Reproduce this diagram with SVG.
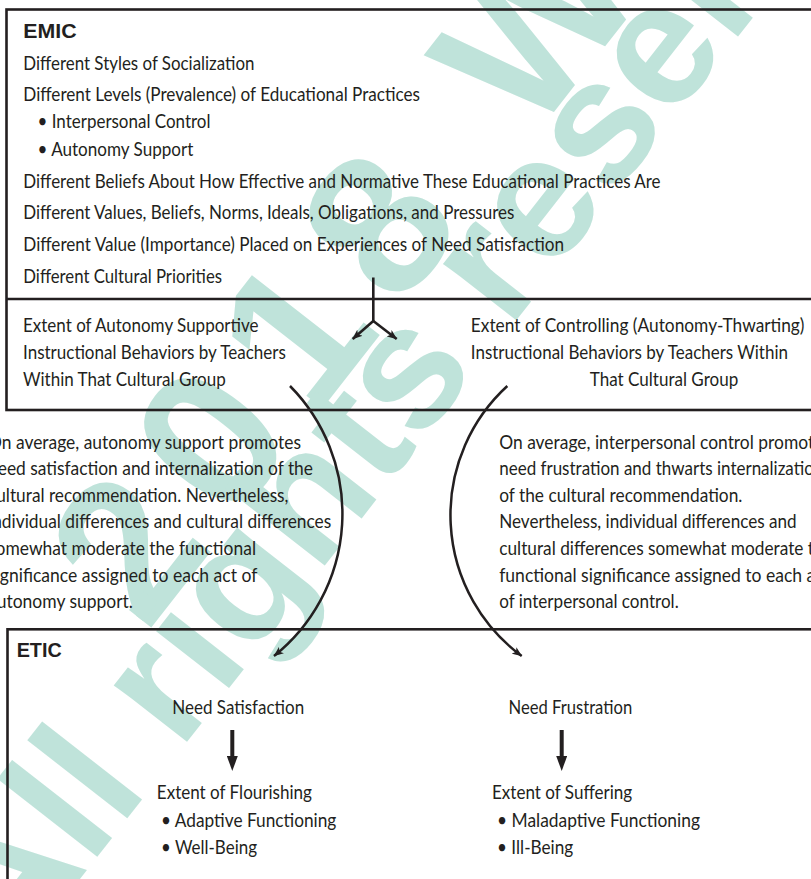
<svg xmlns="http://www.w3.org/2000/svg" width="811" height="879" viewBox="0 0 811 879">
<style>
.t{font-family:Lato,"Liberation Sans",sans-serif;font-size:19px;fill:#231f20}
.h{font-family:"Liberation Sans",Arial,sans-serif;font-weight:700;font-size:20px;fill:#231f20}
.wm{font-family:"Liberation Sans",Arial,sans-serif;font-weight:700;fill:#bfe3da}
.box{fill:none;stroke:#231f20;stroke-width:2.6}
.ln{fill:none;stroke:#231f20;stroke-width:2.6}
.arc{fill:none;stroke:#231f20;stroke-width:2.5}
.thick{fill:none;stroke:#231f20;stroke-width:4}
</style>
<defs>
<marker id="ah" markerUnits="userSpaceOnUse" viewBox="0 0 10 8" markerWidth="10" markerHeight="8" refX="9.5" refY="4" orient="auto">
<path d="M0,0 L10,4 L0,8 L2.5,4 z" fill="#231f20"/>
</marker>
<marker id="ahb" markerUnits="userSpaceOnUse" viewBox="0 0 15 11" markerWidth="15" markerHeight="11" refX="4" refY="5.5" orient="auto">
<path d="M0,0 L15,5.5 L0,11 z" fill="#231f20"/>
</marker>
</defs>
<rect x="0" y="0" width="811" height="879" fill="#ffffff"/>
<g id="watermark">
<text class="wm" font-size="200" letter-spacing="25" transform="translate(147 633) rotate(-52)">2018 Wiley</text>
<text class="wm" font-size="175" transform="translate(12 966) rotate(-52)">All rights reserved</text>
</g>
<g id="emic">
<rect class="box" x="6.5" y="9.5" width="830" height="400.5"/>
<line class="ln" x1="6.5" y1="299" x2="830" y2="299"/>
<text class="h" x="23.3" y="38.3" textLength="53.3" lengthAdjust="spacingAndGlyphs">EMIC</text>
<text class="t" x="23.3" y="70" textLength="231.2" lengthAdjust="spacingAndGlyphs">Different Styles of Socialization</text>
<text class="t" x="23.3" y="101" textLength="396.7" lengthAdjust="spacingAndGlyphs">Different Levels (Prevalence) of Educational Practices</text>
<text class="t" x="37.5" y="128.3" textLength="173" lengthAdjust="spacingAndGlyphs">• Interpersonal Control</text>
<text class="t" x="37.5" y="155.5" textLength="155.8" lengthAdjust="spacingAndGlyphs">• Autonomy Support</text>
<text class="t" x="23.3" y="187.7" textLength="637.3" lengthAdjust="spacingAndGlyphs">Different Beliefs About How Effective and Normative These Educational Practices Are</text>
<text class="t" x="23.3" y="219.3" textLength="491" lengthAdjust="spacingAndGlyphs">Different Values, Beliefs, Norms, Ideals, Obligations, and Pressures</text>
<text class="t" x="23.3" y="251" textLength="540.7" lengthAdjust="spacingAndGlyphs">Different Value (Importance) Placed on Experiences of Need Satisfaction</text>
<text class="t" x="23.3" y="282.7" textLength="198.7" lengthAdjust="spacingAndGlyphs">Different Cultural Priorities</text>
</g>
<g id="autonomy-supportive">
<text class="t" x="23" y="332" textLength="235.5" lengthAdjust="spacingAndGlyphs">Extent of Autonomy Supportive</text>
<text class="t" x="23" y="359" textLength="262.8" lengthAdjust="spacingAndGlyphs">Instructional Behaviors by Teachers</text>
<text class="t" x="23" y="386" textLength="202.7" lengthAdjust="spacingAndGlyphs">Within That Cultural Group</text>
</g>
<g id="controlling">
<text class="t" x="470.8" y="332" textLength="333.7" lengthAdjust="spacingAndGlyphs">Extent of Controlling (Autonomy-Thwarting)</text>
<text class="t" x="470.8" y="359" textLength="317.2" lengthAdjust="spacingAndGlyphs">Instructional Behaviors by Teachers Within</text>
<text class="t" x="589.8" y="386" textLength="148.4" lengthAdjust="spacingAndGlyphs">That Cultural Group</text>
</g>
<g id="note-autonomy-support">
<text class="t" x="-12" y="448.5" textLength="313" lengthAdjust="spacingAndGlyphs">On average, autonomy support promotes</text>
<text class="t" x="-12" y="475.1" textLength="325" lengthAdjust="spacingAndGlyphs">need satisfaction and internalization of the</text>
<text class="t" x="-12" y="501.7" textLength="300.5" lengthAdjust="spacingAndGlyphs">cultural recommendation. Nevertheless,</text>
<text class="t" x="-12" y="528.3" textLength="343.3" lengthAdjust="spacingAndGlyphs">individual differences and cultural differences</text>
<text class="t" x="-12" y="554.9" textLength="268" lengthAdjust="spacingAndGlyphs">somewhat moderate the functional</text>
<text class="t" x="-12" y="581.5" textLength="269.3" lengthAdjust="spacingAndGlyphs">significance assigned to each act of</text>
<text class="t" x="-12" y="608.1" textLength="145" lengthAdjust="spacingAndGlyphs">autonomy support.</text>
</g>
<g id="note-interpersonal-control">
<text class="t" x="499.2" y="448.5" textLength="331.7" lengthAdjust="spacingAndGlyphs">On average, interpersonal control promotes</text>
<text class="t" x="499.2" y="475.1" textLength="324.1" lengthAdjust="spacingAndGlyphs">need frustration and thwarts internalization</text>
<text class="t" x="499.2" y="501.7" textLength="243.2" lengthAdjust="spacingAndGlyphs">of the cultural recommendation.</text>
<text class="t" x="499.2" y="528.3" textLength="297.5" lengthAdjust="spacingAndGlyphs">Nevertheless, individual differences and</text>
<text class="t" x="499.2" y="554.9" textLength="333.6" lengthAdjust="spacingAndGlyphs">cultural differences somewhat moderate the</text>
<text class="t" x="499.2" y="581.5" textLength="330.8" lengthAdjust="spacingAndGlyphs">functional significance assigned to each act</text>
<text class="t" x="499.2" y="608.1" textLength="179.5" lengthAdjust="spacingAndGlyphs">of interpersonal control.</text>
</g>
<g id="etic">
<rect class="box" x="7.5" y="629.3" width="830" height="300"/>
<text class="h" x="16.7" y="657.3" textLength="45" lengthAdjust="spacingAndGlyphs">ETIC</text>
</g>
<g id="need-satisfaction">
<text class="t" x="172.3" y="714.3" textLength="131.9" lengthAdjust="spacingAndGlyphs">Need Satisfaction</text>
</g>
<g id="need-frustration">
<text class="t" x="508.5" y="714.3" textLength="123.7" lengthAdjust="spacingAndGlyphs">Need Frustration</text>
</g>
<g id="flourishing">
<text class="t" x="156.8" y="799.3" textLength="155.2" lengthAdjust="spacingAndGlyphs">Extent of Flourishing</text>
<text class="t" x="161" y="826.7" textLength="175.3" lengthAdjust="spacingAndGlyphs">• Adaptive Functioning</text>
<text class="t" x="161" y="854" textLength="96" lengthAdjust="spacingAndGlyphs">• Well-Being</text>
</g>
<g id="suffering">
<text class="t" x="492" y="799.3" textLength="140.2" lengthAdjust="spacingAndGlyphs">Extent of Suffering</text>
<text class="t" x="497" y="826.7" textLength="203" lengthAdjust="spacingAndGlyphs">• Maladaptive Functioning</text>
<text class="t" x="497" y="854" textLength="76.2" lengthAdjust="spacingAndGlyphs">• Ill-Being</text>
</g>
<g id="connectors">
<line class="ln" x1="373.3" y1="277.5" x2="373.3" y2="322"/>
<line class="ln" x1="373.3" y1="321" x2="352.7" y2="339" marker-end="url(#ah)"/>
<line class="ln" x1="373.3" y1="321" x2="396.7" y2="339" marker-end="url(#ah)"/>
<path class="arc" d="M290,386 A182,182 0 0 1 274,656" marker-end="url(#ah)"/>
<path class="arc" d="M507.3,386 A175,175 0 0 0 521.7,656" marker-end="url(#ah)"/>
<line class="thick" x1="232.3" y1="730" x2="232.3" y2="760" marker-end="url(#ahb)"/>
<line class="thick" x1="561.7" y1="730" x2="561.7" y2="760" marker-end="url(#ahb)"/>
</g>
</svg>
